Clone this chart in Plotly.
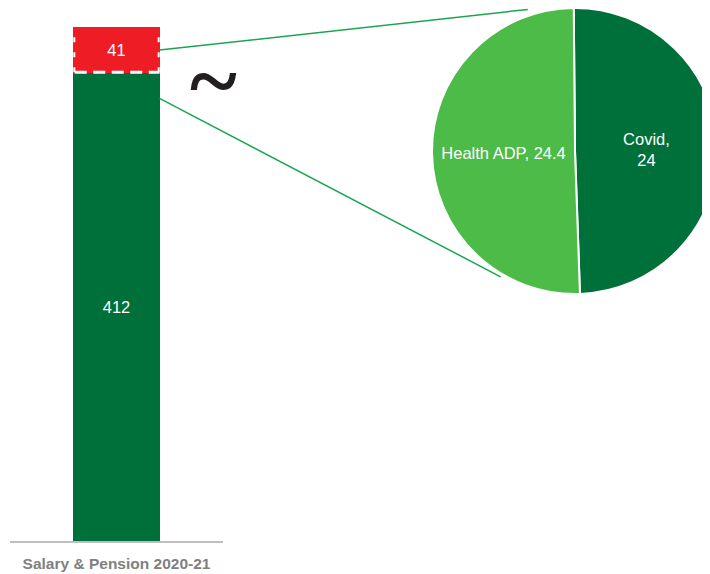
import plotly.graph_objects as go

# bar data
category = ["Salary & Pension 2020-21"]
salary_main = [412]
salary_extra = [41]

# pie data (breakdown of the 41)
pie_labels = ["Covid", "Health ADP"]
pie_values = [24, 24.4]
pie_text = ["Covid,<br>24", "Health ADP, 24.4"]

# page body has an 8px margin, so the figure is laid out 8px up/left of the target
W, H = 710, 574
ml, mr, mt, mb = 2, 0, 0, 41
pw, ph = W - ml - mr, H - mt - mb

dark_green = "#00703a"
light_green = "#4dbb47"
red = "#ee1c25"
line_green = "#1aa64f"

x_axis_end = 213 / pw      # axis line is ~213px long
bar_w = 0.404
y_top = 469.6

fig = go.Figure()
fig.add_trace(go.Bar(x=[0], y=salary_main, width=bar_w, marker_color=dark_green,
                     marker_line_width=0,
                     text=[str(v) for v in salary_main], textposition="inside",
                     insidetextanchor="middle",
                     textfont=dict(color="white", size=16.5, family="Liberation Sans"),
                     showlegend=False, hoverinfo="skip"))
fig.add_trace(go.Bar(x=[0], y=salary_extra, width=bar_w, marker_color=red,
                     marker_line_width=0,
                     text=[str(v) for v in salary_extra], textposition="inside",
                     insidetextanchor="middle",
                     textfont=dict(color="white", size=16.5, family="Liberation Sans"),
                     showlegend=False, hoverinfo="skip"))

# pie domain (right side, runs off the page edge)
pie_dom_x = [(424 - ml) / pw, 1.0]
pie_dom_y = [(ph - 286) / ph, 1.0]
fig.add_trace(go.Pie(labels=pie_labels, values=pie_values, text=pie_text,
                     textinfo="text", sort=False, direction="clockwise",
                     rotation=-0.5, domain=dict(x=pie_dom_x, y=pie_dom_y),
                     marker=dict(colors=[dark_green, light_green],
                                 line=dict(color="white", width=2)),
                     textfont=dict(color="white", size=16.5, family="Liberation Sans"),
                     insidetextorientation="horizontal",
                     showlegend=False, hoverinfo="skip"))

# dashed outline on the red segment
x0, x1 = -bar_w / 2, bar_w / 2
yb, yt = salary_main[0], salary_main[0] + salary_extra[0]
fig.add_shape(type="line", xref="x", yref="y", x0=x0 + 0.006, y0=yb + 1, x1=x1, y1=yb + 1,
              line=dict(color="white", width=3, dash="12px,6.5px"))
for xs in (x0 + 0.004, x1 - 0.004):
    fig.add_shape(type="line", xref="x", yref="y", x0=xs, y0=yb + 1, x1=xs, y1=yt - 4,
                  line=dict(color="white", width=2, dash="5px,10px"))

# connector lines from bar to pie (paper x, data y)
bar_edge_px = ml + (x1 + 0.5) * (x_axis_end * pw)
def px_to_paper_x(p):
    return (p - ml) / pw
def py_to_data(p):
    return (mt + ph - p) * y_top / ph

pie_cx = ml + (pie_dom_x[0] + pie_dom_x[1]) / 2 * pw
pie_cy = mt + ph - (pie_dom_y[0] + pie_dom_y[1]) / 2 * ph
pie_r = min((pie_dom_x[1] - pie_dom_x[0]) * pw, (pie_dom_y[1] - pie_dom_y[0]) * ph) / 2

top_end = (pie_cx - 0.33 * pie_r, pie_cy - 0.99 * pie_r)
bot_end = (pie_cx - 0.52 * pie_r, pie_cy + 0.88 * pie_r)

fig.add_shape(type="line", xref="paper", yref="y",
              x0=px_to_paper_x(bar_edge_px), y0=yb + salary_extra[0] / 2,
              x1=px_to_paper_x(top_end[0]), y1=py_to_data(top_end[1]),
              line=dict(color=line_green, width=1.5))
fig.add_shape(type="line", xref="paper", yref="y",
              x0=px_to_paper_x(bar_edge_px), y0=yb - 22,
              x1=px_to_paper_x(bot_end[0]), y1=py_to_data(bot_end[1]),
              line=dict(color=line_green, width=1.5))

# axis break mark
fig.add_annotation(text="<b>~</b>", x=px_to_paper_x(180), y=(ph - 21) / ph,
                   xref="paper", yref="paper", showarrow=False,
                   font=dict(size=90, color="#231f20", family="Liberation Serif"))

fig.update_layout(
    barmode="stack", width=W, height=H,
    margin=dict(l=ml, r=mr, t=mt, b=mb),
    plot_bgcolor="white", paper_bgcolor="white",
    xaxis=dict(domain=[0, x_axis_end], range=[-0.5, 0.5], tickvals=[0],
               ticktext=["<b>" + c + "</b>" for c in category],
               showline=True, linecolor="#bfbfbf", linewidth=1.5,
               showgrid=False, zeroline=False, ticks="", ticklabelstandoff=8,
               tickfont=dict(size=15.5, color="#808080", family="Liberation Sans")),
    yaxis=dict(range=[0, y_top], visible=False),
)

fig.write_html("out.html")
